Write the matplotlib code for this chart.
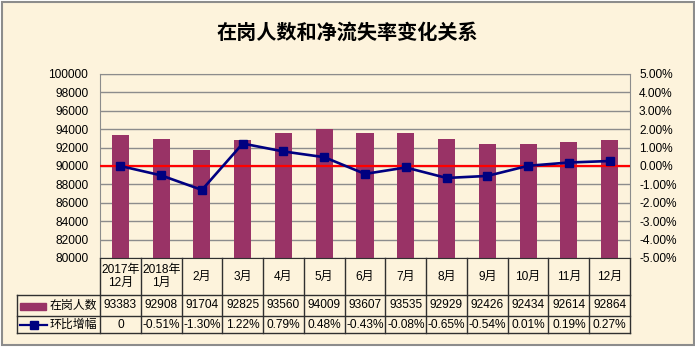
import matplotlib.pyplot as plt
import matplotlib.transforms as mtransforms
from matplotlib.patches import Rectangle
from matplotlib.lines import Line2D
import numpy as np

plt.rcParams['font.family'] = ['Liberation Sans', 'Noto Sans CJK SC', 'DejaVu Sans']

months = ['2017年\n12月', '2018年\n1月', '2月', '3月', '4月', '5月', '6月',
          '7月', '8月', '9月', '10月', '11月', '12月']
staff = [93383, 92908, 91704, 92825, 93560, 94009, 93607, 93535, 92929,
         92426, 92434, 92614, 92864]
change = [0, -0.51, -1.30, 1.22, 0.79, 0.48, -0.43, -0.08, -0.65, -0.54,
          0.01, 0.19, 0.27]  # percent
series_names = ['在岗人数', '环比增幅']

W, H = 695, 350
BG = '#fdf3dc'
BAR = '#993366'
LINE = '#000080'
FS = 8.6


def fx(px):
    return px / W


def fy(py):
    return 1 - py / H


fig = plt.figure(figsize=(W / 100, H / 100), dpi=100)
fig.patch.set_facecolor('white')
fig.patches.append(Rectangle((fx(1.5), fy(345)), fx(692), (345 - 1.5) / H,
                             transform=fig.transFigure, facecolor=BG,
                             edgecolor='#8c8c8c', lw=1.5, zorder=-10))

fig.text(fx(347), fy(32), '在岗人数和净流失率变化关系', ha='center', va='center',
         fontsize=14.5, fontweight='bold', family=['Noto Sans CJK SC'])

ax = fig.add_axes([fx(100), fy(258), 530 / W, 184 / H])
ax.set_facecolor('none')
x = np.arange(len(staff))
ax.bar(x, staff, width=0.42, color=BAR, zorder=2)
ax.set_xlim(-0.5, len(staff) - 0.5)
ax.set_ylim(80000, 100000)
ax.set_yticks(range(80000, 100001, 2000))
ax.set_xticks([])
ax.yaxis.grid(True, color='#8c8c8c', lw=1)
ax.set_axisbelow(True)
ax.tick_params(axis='y', length=0, pad=8.5, labelsize=FS)
for side in ['top', 'left', 'right']:
    ax.spines[side].set_color('#8c8c8c')
ax.spines['bottom'].set_color('#303030')

ax2 = ax.twinx()
ax2.set_ylim(-5, 5)
ax2.set_yticks(range(-5, 6))
ax2.yaxis.set_major_formatter(lambda v, p: f'{v:.2f}%')
ax2.tick_params(axis='y', length=0, pad=6.5, labelsize=FS)
for s in ax2.spines.values():
    s.set_visible(False)
ax2.axhline(0, color='#ff0000', lw=1.6, zorder=3)
ax2.plot(x, change, color=LINE, lw=1.9, marker='s', ms=6.2, zorder=4)

# data table under the plot
trans = mtransforms.blended_transform_factory(ax.transData, ax.transAxes)
ah = 184
y_head = -37 / ah
y_r1 = -58 / ah
y_r2 = -75 / ah
x_lab = -0.5 - 83 / (530 / len(staff))
x_end = len(staff) - 0.5
lc = '#303030'


def tline(xs, ys):
    ax.add_line(Line2D(xs, ys, transform=trans, color=lc, lw=1, clip_on=False))


for k in range(len(staff) + 1):
    tline([k - 0.5, k - 0.5], [0, y_r2])
tline([x_lab, x_lab], [y_head, y_r2])
for yy in [y_head, y_r1, y_r2]:
    tline([x_lab, x_end], [yy, yy])

for i, m in enumerate(months):
    ax.text(i, y_head / 2, m, transform=trans, ha='center', va='center',
            fontsize=FS, linespacing=1.15)
    ax.text(i, (y_head + y_r1) / 2, str(staff[i]), transform=trans,
            ha='center', va='center', fontsize=FS)
    lab = '0' if change[i] == 0 else f'{change[i]:.2f}%'
    ax.text(i, (y_r1 + y_r2) / 2, lab, transform=trans, ha='center',
            va='center', fontsize=FS)

# legend keys in the row headers
fig.patches.append(Rectangle((fx(20), fy(310)), 26 / W, 7 / H,
                             transform=fig.transFigure, color=BAR))
fig.lines.append(Line2D([fx(20), fx(47)], [fy(324.5), fy(324.5)],
                        transform=fig.transFigure, color=LINE, lw=1.6))
fig.lines.append(Line2D([fx(33.5)], [fy(324.5)], transform=fig.transFigure,
                        color=LINE, marker='s', ms=5.5))
fig.text(fx(50), fy(305.5), series_names[0], ha='left', va='center',
         fontsize=FS)
fig.text(fx(50), fy(324.5), series_names[1], ha='left', va='center',
         fontsize=FS)

fig.savefig('out.png', dpi=100, facecolor=fig.get_facecolor())
